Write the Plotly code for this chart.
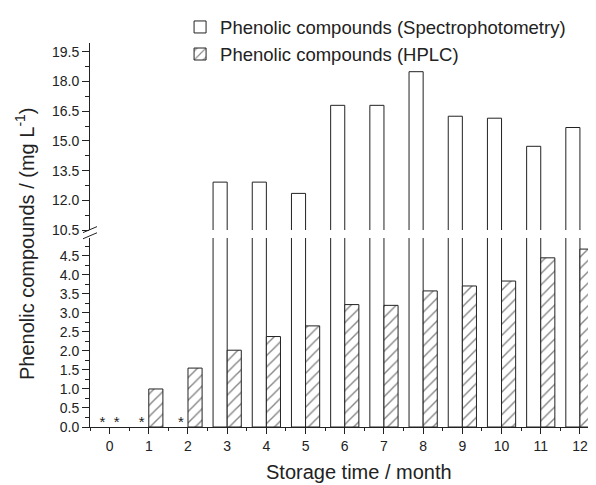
import plotly.graph_objects as go

# storage time (months) and measured phenolic compounds (mg/L)
months = [0, 1, 2, 3, 4, 5, 6, 7, 8, 9, 10, 11, 12]
spectro = [None, None, None, 12.92, 12.92, 12.35, 16.8, 16.8, 18.5, 16.25, 16.15, 14.73, 15.68]
hplc = [None, 1.0, 1.55, 2.02, 2.38, 2.66, 3.22, 3.20, 3.58, 3.71, 3.84, 4.45, 4.68]

spectro_name = "Phenolic compounds (Spectrophotometry)"
hplc_name = "Phenolic compounds (HPLC)"
y_title = "Phenolic compounds / (mg L<sup>-1</sup>)"
x_title = "Storage time / month"

font = "Liberation Sans, Arial, sans-serif"
ink = "#222222"
bw = 0.36

fig = go.Figure()

# open bars: drawn on both halves of the broken axis
bar_line = dict(color=ink, width=1)
fig.add_trace(go.Bar(x=months, y=spectro, width=bw, offset=-bw, name=spectro_name,
                     marker=dict(color="white", line=bar_line),
                     xaxis="x", yaxis="y", showlegend=False))
fig.add_trace(go.Bar(x=months, y=spectro, width=bw, offset=-bw, name=spectro_name,
                     marker=dict(color="white", line=bar_line),
                     xaxis="x2", yaxis="y2", showlegend=True, legendrank=1))
fig.add_trace(go.Bar(x=months, y=hplc, width=bw, offset=0, name=hplc_name,
                     marker=dict(color="white", line=bar_line,
                                 pattern=dict(shape="/", fgcolor="#111111", bgcolor="white",
                                              size=8, solidity=0.18)),
                     xaxis="x", yaxis="y", legendrank=2))

# not detected -> asterisk
nd_x = [m - bw / 2 for m, v in zip(months, spectro) if v is None] + \
       [m + bw / 2 for m, v in zip(months, hplc) if v is None]
fig.add_trace(go.Scatter(x=nd_x, y=[0.1] * len(nd_x), mode="text", text=["*"] * len(nd_x),
                         textfont=dict(size=15, color=ink, family=font),
                         showlegend=False, hoverinfo="skip"))

tickfont = dict(size=14, color=ink, family=font)
yax = dict(showline=True, linecolor=ink, linewidth=1, ticks="outside", ticklen=7,
           tickcolor=ink, tickfont=tickfont, showgrid=False, zeroline=False,
           tickformat=".1f", anchor="x")

# page has an 8px body margin, so the figure is 8px smaller than the window
fig.update_layout(
    width=588, height=477,
    margin=dict(l=82, r=0, t=35, b=58),
    plot_bgcolor="white", paper_bgcolor="white",
    barmode="overlay",
    font=dict(family=font, color=ink),
    xaxis=dict(range=[-0.5, 12.41], tickmode="linear", tick0=0, dtick=1,
               showline=True, linecolor=ink, linewidth=1, ticks="outside", ticklen=6,
               tickcolor=ink, tickfont=tickfont, showgrid=False, zeroline=False,
               minor=dict(dtick=0.5, ticks="outside", ticklen=3, tickcolor=ink),
               anchor="y"),
    xaxis2=dict(matches="x", visible=False, anchor="y2"),
    yaxis=dict(yax, domain=[0, 0.492], range=[0, 4.97], tick0=0, dtick=0.5,
               minor=dict(dtick=0.25, ticks="outside", ticklen=4, tickcolor=ink)),
    yaxis2=dict(yax, domain=[0.513, 1], range=[10.5, 19.95], tick0=10.5, dtick=1.5,
                minor=dict(dtick=0.75, ticks="outside", ticklen=4, tickcolor=ink)),
    legend=dict(x=0.178, xanchor="left", y=1.09, yanchor="top",
                font=dict(size=18.5, color=ink, family=font),
                bgcolor="rgba(0,0,0,0)", traceorder="normal", tracegroupgap=0),
)

# axis break marks
for yb in [0.498, 0.514]:
    fig.add_shape(type="line", xref="paper", yref="paper",
                  xsizemode="pixel", ysizemode="pixel", xanchor=0, yanchor=yb,
                  x0=-7, x1=7, y0=-3, y1=3, line=dict(color=ink, width=1))

fig.add_annotation(text=y_title, xref="paper", yref="paper", x=-0.128, y=0.477,
                   xanchor="center", yanchor="middle",
                   textangle=-90, showarrow=False, font=dict(size=20, color=ink, family=font))
fig.add_annotation(text=x_title, xref="paper", yref="paper", x=0.532, y=-0.118,
                   xanchor="center", yanchor="middle",
                   showarrow=False, font=dict(size=20, color=ink, family=font))

fig.write_html("out.html")
